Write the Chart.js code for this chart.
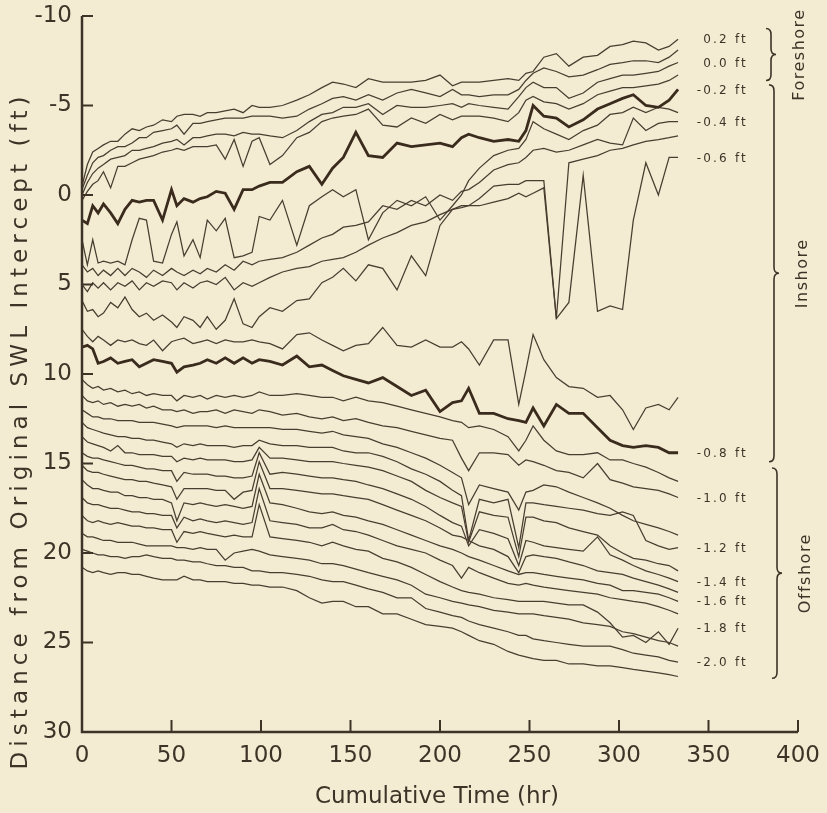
<!DOCTYPE html>
<html>
<head>
<meta charset="utf-8">
<script src="https://cdn.jsdelivr.net/npm/chart.js@4.4.1/dist/chart.umd.min.js"></script>
<style>
  html, body { margin: 0; padding: 0; background: #f3ecd3; }
  #wrap { width: 827px; height: 813px; }
</style>
</head>
<body>
<div id="wrap"><canvas id="profile-chart" width="827" height="813"></canvas></div>
<script>
// survey times (hr) shared by every contour line
var hours = [0, 3, 6, 9, 12, 16, 20, 24, 28, 32, 36, 40, 45, 50, 53, 57, 62, 66, 70, 75,
    80, 85, 90, 95, 99, 105, 112, 120, 127, 134, 140, 146, 153, 160, 168, 176, 184, 192, 200, 207,
    212, 216, 222, 230, 238, 244, 248, 252, 258, 265, 272, 280, 288, 295, 302, 308, 315, 322, 328, 333];

var timeTicks = [0, 50, 100, 150, 200, 250, 300, 350, 400];
var distanceTicks = [-10, -5, 0, 5, 10, 15, 20, 25, 30];

// contour elevations (ft), one line each
var elevations = [0.2, 0.1, 0.0, -0.1, -0.2, -0.3, -0.4, -0.5, -0.6, -0.7, -0.8, -0.9,
    -1.0, -1.1, -1.2, -1.3, -1.4, -1.5, -1.6, -1.7, -1.8, -1.9, -2.0, -2.1];
var heavyContours = [-0.2, -0.8];

// distance from original SWL intercept (ft) for each contour
var ft_p02 = [-0.5, -1.7, -2.4, -2.6, -2.8, -3.0, -3.0, -3.4, -3.7, -3.6, -3.8, -3.9, -4.2, -4.1, -4.4, -4.5, -4.5, -4.4, -4.6, -4.6,
    -4.7, -4.8, -4.6, -5.0, -4.9, -4.9, -5.0, -5.3, -5.6, -6.0, -6.3, -6.2, -6.0, -6.5, -6.3, -6.3, -6.3, -6.4, -6.7, -6.1,
    -6.3, -6.3, -6.3, -6.4, -6.5, -6.4, -6.8, -6.9, -7.7, -7.9, -7.2, -7.7, -7.8, -8.3, -8.4, -8.6, -8.5, -8.1, -8.3, -8.7];
var ft_p01 = [-0.3, -1.1, -1.8, -2.1, -2.2, -2.5, -2.7, -2.7, -2.9, -3.2, -3.2, -3.5, -3.6, -3.7, -3.9, -3.4, -4.0, -4.0, -4.1, -4.2,
    -4.3, -4.3, -4.3, -4.4, -4.4, -4.4, -4.3, -4.4, -4.8, -5.1, -5.4, -5.5, -5.3, -5.6, -5.3, -5.7, -5.9, -5.7, -5.5, -5.9,
    -5.6, -5.6, -5.5, -5.6, -5.6, -5.9, -6.4, -6.8, -7.1, -6.9, -6.6, -6.7, -7.0, -7.3, -7.4, -7.5, -7.5, -7.4, -7.7, -8.1];
var ft_000 = [0.0, -0.7, -1.2, -1.5, -1.7, -2.0, -2.1, -2.2, -2.5, -2.5, -2.6, -2.7, -2.9, -3.0, -3.1, -2.8, -3.2, -3.2, -3.3, -3.4,
    -3.4, -3.3, -3.5, -3.4, -3.4, -3.3, -3.2, -3.6, -4.1, -4.5, -4.6, -4.9, -4.9, -5.1, -4.5, -5.0, -4.9, -4.9, -5.0, -5.1,
    -4.9, -5.1, -5.0, -4.9, -4.8, -5.5, -6.0, -6.3, -6.0, -6.0, -5.4, -5.7, -6.3, -6.5, -6.7, -6.7, -6.8, -6.9, -7.2, -7.4];
var ft_m01 = [0.3, -0.2, -0.6, -0.8, -1.3, -0.4, -1.6, -1.6, -1.8, -2.0, -2.1, -2.2, -2.4, -2.5, -2.6, -2.5, -2.7, -2.7, -2.7, -2.8,
    -2.0, -3.1, -1.6, -3.0, -3.2, -1.7, -2.2, -3.2, -3.5, -4.1, -4.3, -4.4, -4.5, -4.8, -3.9, -3.8, -4.3, -4.0, -4.5, -4.2,
    -4.4, -4.4, -4.4, -4.3, -4.1, -4.6, -5.3, -5.5, -5.2, -5.1, -4.8, -5.1, -5.6, -5.8, -6.0, -6.0, -6.1, -6.2, -6.4, -6.7];
var ft_m02 = [1.4, 1.6, 0.6, 1.0, 0.5, 1.0, 1.6, 0.8, 0.3, 0.4, 0.3, 0.3, 1.4, -0.3, 0.6, 0.2, 0.4, 0.2, 0.1, -0.2,
    -0.1, 0.8, -0.3, -0.3, -0.5, -0.7, -0.7, -1.3, -1.6, -0.6, -1.5, -2.1, -3.5, -2.2, -2.1, -2.9, -2.7, -2.8, -2.9, -2.7,
    -3.2, -3.4, -3.2, -3.0, -3.1, -3.0, -3.6, -5.0, -4.4, -4.3, -3.8, -4.2, -4.8, -5.1, -5.4, -5.6, -5.0, -4.9, -5.3, -5.9];
var ft_m03 = [2.5, 3.9, 2.5, 3.8, 3.7, 3.8, 3.7, 3.9, 2.5, 1.3, 1.4, 3.7, 3.8, 2.2, 1.5, 3.4, 2.5, 3.5, 1.4, 2.0,
    1.3, 3.5, 3.4, 3.2, 1.2, 1.4, 0.3, 2.8, 0.6, 0.1, -0.3, 0.1, -0.3, 2.5, 1.0, 0.3, 0.6, 0.1, 1.4, 0.6,
    0.0, -0.8, -1.5, -2.2, -2.5, -2.6, -3.1, -4.1, -3.7, -3.4, -3.1, -3.6, -3.9, -4.5, -4.6, -4.9, -4.6, -4.9, -4.8, -4.6];
var ft_m04 = [3.9, 4.3, 4.1, 4.5, 4.2, 4.5, 4.1, 4.5, 4.1, 4.3, 4.6, 4.2, 4.5, 4.1, 4.3, 4.5, 4.2, 4.4, 4.1, 4.3,
    3.9, 4.2, 3.7, 3.9, 3.7, 3.6, 3.5, 3.2, 2.8, 2.4, 2.2, 1.8, 1.7, 1.5, 0.6, 0.8, 0.3, 0.6, 0.0, 0.3,
    -0.2, -0.3, -0.7, -1.4, -1.7, -1.8, -2.1, -2.5, -2.6, -2.4, -2.5, -2.8, -3.1, -2.9, -2.8, -4.3, -3.6, -4.0, -4.1, -4.1];
var ft_m05 = [5.0, 5.4, 4.9, 5.2, 4.9, 5.3, 4.9, 5.1, 4.8, 5.3, 4.9, 5.1, 4.8, 4.9, 5.3, 4.9, 5.2, 4.9, 4.8, 5.0,
    4.6, 5.3, 4.9, 5.1, 4.9, 4.6, 4.3, 4.1, 4.0, 3.7, 3.6, 3.5, 3.2, 2.8, 2.4, 2.1, 1.7, 1.5, 1.1, 0.8,
    0.6, 0.6, 0.2, -0.5, -0.6, -0.6, -0.8, -0.8, -0.8, 6.9, -1.8, -2.0, -2.2, -2.5, -2.6, -2.8, -3.0, -3.1, -3.2, -3.3];
var ft_m06 = [5.9, 6.5, 6.4, 6.8, 6.6, 6.0, 6.3, 5.7, 6.4, 6.8, 6.6, 7.0, 6.7, 7.1, 7.4, 6.8, 7.0, 7.4, 6.8, 7.5,
    7.0, 5.8, 7.2, 7.4, 6.8, 6.3, 6.5, 5.9, 5.8, 4.9, 4.6, 4.1, 4.8, 3.9, 4.1, 5.3, 3.4, 4.5, 1.7, 0.8,
    0.7, 0.6, 0.6, 0.4, 0.2, -0.1, 0.1, -0.1, -0.4, 6.9, 6.0, -1.1, 6.5, 6.2, 6.4, 1.4, -1.8, 0.0, -2.1, -2.1];
var ft_m07 = [7.5, 7.9, 8.2, 7.9, 8.1, 8.4, 8.1, 8.2, 8.1, 8.3, 8.4, 8.1, 8.7, 8.2, 8.1, 8.0, 8.3, 8.2, 8.1, 8.3,
    8.1, 8.2, 8.2, 8.1, 8.2, 8.3, 8.6, 7.8, 7.7, 8.1, 8.4, 8.7, 8.4, 8.3, 7.4, 8.4, 8.5, 8.1, 8.5, 8.5,
    8.2, 8.6, 9.5, 8.1, 8.1, 11.7, 9.8, 7.8, 9.2, 10.2, 10.7, 10.8, 11.3, 11.2, 12.0, 13.1, 11.9, 11.7, 12.0, 11.3];
var ft_m08 = [8.5, 8.4, 8.6, 9.4, 9.3, 9.1, 9.4, 9.3, 9.2, 9.6, 9.4, 9.2, 9.3, 9.4, 9.9, 9.6, 9.5, 9.4, 9.2, 9.4,
    9.1, 9.4, 9.1, 9.4, 9.2, 9.3, 9.5, 9.0, 9.6, 9.5, 9.8, 10.1, 10.3, 10.5, 10.2, 10.7, 11.2, 10.9, 12.1, 11.6,
    11.5, 10.8, 12.2, 12.2, 12.5, 12.6, 12.7, 11.9, 12.9, 11.7, 12.2, 12.2, 13.0, 13.7, 14.0, 14.1, 14.0, 14.1, 14.4, 14.4];
var ft_m09 = [10.3, 10.6, 10.8, 10.7, 10.9, 10.8, 11.0, 10.9, 11.1, 11.0, 11.2, 11.1, 11.2, 11.2, 11.5, 11.2, 11.3, 11.2, 11.4, 11.2,
    11.3, 11.2, 11.3, 11.2, 11.0, 11.2, 11.2, 11.1, 11.2, 11.3, 11.3, 11.5, 11.3, 11.5, 11.6, 11.8, 12.0, 12.2, 12.4, 12.6,
    12.7, 13.0, 12.9, 13.1, 13.5, 14.3, 13.7, 12.9, 13.7, 14.3, 14.5, 14.5, 14.4, 14.8, 14.8, 15.0, 15.2, 15.5, 15.8, 16.0];
var ft_m10 = [11.2, 11.5, 11.6, 11.5, 11.7, 11.6, 11.8, 11.7, 11.8, 11.7, 11.9, 11.8, 12.0, 12.0, 12.1, 12.0, 12.2, 12.1, 12.1, 12.0,
    12.2, 12.0, 12.1, 12.2, 12.0, 12.1, 12.3, 12.2, 12.4, 12.5, 12.4, 12.6, 12.5, 12.7, 12.9, 13.0, 13.2, 13.4, 13.6, 13.7,
    14.7, 15.4, 14.4, 14.4, 14.5, 15.1, 14.8, 14.9, 15.1, 15.4, 15.5, 15.8, 15.0, 15.9, 16.1, 16.3, 16.4, 16.5, 16.7, 16.9];
var ft_m11 = [12.0, 12.2, 12.4, 12.4, 12.5, 12.5, 12.6, 12.6, 12.6, 12.7, 12.7, 12.7, 12.8, 12.9, 13.0, 12.9, 12.9, 12.9, 12.9, 13.0,
    12.9, 13.0, 13.0, 13.0, 13.0, 13.0, 13.1, 13.1, 13.2, 13.3, 13.2, 13.4, 13.5, 13.6, 13.9, 14.1, 14.4, 14.7, 15.1, 15.5,
    15.8, 17.3, 16.2, 16.4, 16.6, 17.6, 16.6, 16.5, 16.2, 16.3, 16.6, 16.9, 17.2, 17.5, 17.9, 18.2, 18.4, 18.6, 18.8, 19.0];
var ft_m12 = [12.7, 13.0, 13.1, 13.2, 13.3, 13.4, 13.5, 13.5, 13.6, 13.6, 13.7, 13.7, 13.8, 13.9, 14.1, 13.9, 14.0, 13.9, 14.0, 14.0,
    14.0, 14.1, 14.0, 14.0, 13.7, 13.9, 14.0, 14.0, 14.1, 14.1, 14.1, 14.3, 14.4, 14.4, 14.6, 14.9, 15.3, 15.6, 16.0, 16.5,
    16.8, 19.3, 17.0, 17.2, 17.0, 19.7, 17.2, 17.2, 17.3, 17.4, 17.5, 17.6, 17.8, 17.9, 17.7, 17.9, 19.3, 19.6, 19.8, 19.7];
var ft_m13 = [13.5, 13.8, 13.9, 14.0, 14.1, 14.3, 14.0, 14.4, 14.4, 14.5, 14.5, 14.5, 14.6, 14.6, 14.9, 14.7, 14.8, 14.7, 14.8, 14.8,
    14.8, 14.9, 14.9, 14.8, 14.1, 14.7, 14.7, 14.8, 14.9, 14.9, 14.9, 15.0, 15.1, 15.2, 15.4, 15.7, 16.0, 16.5, 16.9, 17.2,
    17.4, 19.4, 17.7, 17.9, 18.0, 20.2, 18.0, 18.0, 18.2, 18.3, 18.6, 18.8, 19.0, 19.6, 20.0, 20.3, 20.4, 20.6, 20.7, 21.0];
var ft_m14 = [14.4, 14.6, 14.7, 14.7, 14.8, 14.9, 15.0, 15.1, 15.1, 15.2, 15.3, 15.3, 15.4, 15.4, 16.0, 15.5, 15.6, 15.6, 15.6, 15.7,
    15.7, 15.8, 15.8, 15.7, 14.4, 15.6, 15.5, 15.6, 15.7, 15.8, 15.8, 15.9, 16.0, 16.2, 16.4, 16.7, 17.0, 17.4, 17.9, 18.3,
    18.5, 19.6, 18.7, 18.9, 19.2, 20.7, 19.3, 19.4, 19.6, 19.7, 19.8, 19.9, 19.1, 20.1, 20.4, 20.7, 21.0, 21.2, 21.4, 21.6];
var ft_m15 = [15.1, 15.4, 15.5, 15.5, 15.6, 15.7, 15.8, 15.9, 15.9, 16.0, 16.0, 16.1, 16.2, 16.3, 17.0, 16.4, 16.4, 16.4, 16.4, 16.5,
    16.5, 17.0, 16.6, 16.5, 14.9, 16.4, 16.4, 16.5, 16.6, 16.7, 16.7, 16.8, 16.9, 17.0, 17.3, 17.6, 17.9, 18.2, 18.6, 19.0,
    19.1, 19.3, 19.6, 19.8, 20.2, 21.1, 20.2, 20.1, 20.2, 20.3, 20.5, 20.7, 21.0, 21.1, 21.2, 21.4, 21.6, 21.8, 22.0, 22.2];
var ft_m16 = [15.9, 16.2, 16.4, 16.4, 16.5, 16.6, 16.6, 16.8, 16.8, 16.9, 16.9, 17.0, 17.0, 17.2, 18.2, 17.2, 17.3, 17.2, 17.3, 17.4,
    17.3, 17.4, 17.5, 17.4, 15.6, 17.2, 17.3, 17.5, 17.7, 17.8, 17.7, 17.9, 18.0, 18.2, 18.4, 18.7, 19.0, 19.3, 19.6, 19.8,
    20.0, 20.2, 20.4, 20.7, 21.0, 21.2, 21.1, 21.1, 21.2, 21.3, 21.4, 21.5, 21.7, 21.8, 22.1, 22.1, 22.2, 22.3, 22.5, 22.7];
var ft_m17 = [16.9, 17.2, 17.3, 17.3, 17.4, 17.5, 17.5, 17.6, 17.7, 17.7, 17.8, 17.8, 17.9, 17.9, 18.6, 18.0, 18.2, 18.1, 18.2, 18.3,
    18.2, 18.3, 18.4, 18.3, 16.4, 18.2, 18.3, 18.4, 18.6, 18.6, 18.4, 18.7, 18.8, 19.0, 19.3, 19.6, 19.8, 20.0, 20.4, 20.7,
    21.4, 20.8, 21.1, 21.4, 21.7, 21.8, 21.7, 21.8, 21.9, 22.0, 22.1, 22.2, 22.3, 22.5, 22.6, 22.7, 22.8, 23.0, 23.2, 23.4];
var ft_m18 = [17.9, 18.2, 18.3, 18.2, 18.3, 18.4, 18.3, 18.4, 18.5, 18.5, 18.6, 18.6, 18.7, 18.7, 19.4, 18.8, 18.9, 18.8, 18.9, 19.0,
    19.1, 19.0, 19.1, 19.1, 17.3, 19.1, 19.2, 19.3, 19.4, 19.6, 19.4, 19.6, 19.8, 19.9, 20.3, 20.5, 20.8, 21.2, 21.6, 21.9,
    22.1, 22.2, 22.3, 22.5, 22.6, 22.7, 22.7, 22.7, 22.7, 22.8, 22.9, 22.9, 23.3, 23.9, 24.7, 24.6, 25.0, 24.4, 25.1, 24.2];
var ft_m19 = [18.9, 19.1, 19.1, 19.2, 19.3, 19.3, 19.4, 19.4, 19.4, 19.5, 19.6, 19.6, 19.6, 19.6, 19.7, 19.7, 19.8, 19.7, 19.8, 19.8,
    20.4, 20.0, 19.9, 19.8, 19.9, 20.1, 20.2, 20.3, 20.4, 20.6, 20.6, 20.7, 20.9, 21.1, 21.3, 21.5, 21.8, 22.3, 22.5, 22.7,
    22.8, 22.9, 23.0, 23.2, 23.3, 23.4, 23.4, 23.4, 23.5, 23.6, 23.7, 23.9, 24.0, 24.1, 24.4, 24.5, 24.7, 24.9, 25.0, 25.2];
var ft_m20 = [19.8, 19.9, 20.0, 20.1, 20.1, 20.2, 20.2, 20.3, 20.2, 20.2, 20.1, 20.2, 20.3, 20.3, 20.4, 20.4, 20.5, 20.5, 20.6, 20.7,
    20.7, 20.8, 20.8, 21.0, 21.0, 21.1, 21.1, 21.2, 21.3, 21.5, 21.6, 21.6, 21.8, 22.0, 22.2, 22.5, 22.5, 23.1, 23.3, 23.5,
    23.6, 23.8, 24.0, 24.2, 24.4, 24.6, 24.6, 24.8, 24.9, 25.0, 25.1, 25.2, 25.2, 25.2, 25.4, 25.6, 25.7, 25.8, 26.0, 26.1];
var ft_m21 = [20.8, 21.0, 21.1, 21.0, 21.1, 21.2, 21.1, 21.1, 21.2, 21.2, 21.3, 21.4, 21.5, 21.5, 21.5, 21.3, 21.5, 21.5, 21.6, 21.6,
    21.6, 21.7, 21.7, 21.8, 21.8, 21.9, 21.9, 22.1, 22.5, 22.8, 22.7, 22.7, 23.0, 23.0, 23.4, 23.4, 23.7, 24.0, 24.1, 24.2,
    24.4, 24.6, 24.9, 25.1, 25.5, 25.7, 25.8, 25.9, 26.0, 26.0, 26.2, 26.2, 26.3, 26.3, 26.4, 26.5, 26.6, 26.7, 26.8, 26.9];

var series = [ft_p02, ft_p01, ft_000, ft_m01, ft_m02, ft_m03, ft_m04, ft_m05, ft_m06, ft_m07, ft_m08, ft_m09,
    ft_m10, ft_m11, ft_m12, ft_m13, ft_m14, ft_m15, ft_m16, ft_m17, ft_m18, ft_m19, ft_m20, ft_m21];

// beach zones, as distance ranges (ft)
var zoneNames = ['Foreshore', 'Inshore', 'Offshore'];
var zoneTop = [-9.3, -6.15, 15.25];
var zoneBottom = [-6.4, 14.9, 27.0];

var ink = '#3f3327';
var paper = '#f3ecd3';
var thinFace = '"DejaVu Sans ExtraLight", "DejaVu Sans", sans-serif';

function ftLabel(e) {
    return e.toFixed(1) + ' ft';
}

var paperPlugin = {
    id: 'paper',
    beforeDraw: function (chart) {
        var ctx = chart.ctx;
        ctx.save();
        ctx.fillStyle = paper;
        ctx.fillRect(0, 0, chart.width, chart.height);
        ctx.restore();
    }
};

function drawBrace(ctx, x, top, bottom) {
    var mid = (top + bottom) / 2;
    ctx.beginPath();
    ctx.moveTo(x - 5, top);
    ctx.quadraticCurveTo(x, top, x, top + 6);
    ctx.lineTo(x, mid - 6);
    ctx.quadraticCurveTo(x, mid, x + 5, mid);
    ctx.quadraticCurveTo(x, mid, x, mid + 6);
    ctx.lineTo(x, bottom - 6);
    ctx.quadraticCurveTo(x, bottom, x - 5, bottom);
    ctx.stroke();
}

function spacedText(ctx, text, x, y, width) {
    ctx.letterSpacing = '0px';
    var w0 = ctx.measureText(text).width;
    var sp = Math.max(0, (width - w0) / (text.length - 1));
    ctx.letterSpacing = sp + 'px';
    ctx.fillText(text, x + sp / 2, y);
    ctx.letterSpacing = '0px';
}

var decorPlugin = {
    id: 'decor',
    afterDraw: function (chart) {
        var ctx = chart.ctx;
        var area = chart.chartArea;
        var xs = chart.scales.x;
        var ys = chart.scales.y;
        ctx.save();

        // axes with inward ticks
        ctx.strokeStyle = ink;
        ctx.lineWidth = 2.5;
        ctx.beginPath();
        ctx.moveTo(area.left, area.top);
        ctx.lineTo(area.left, area.bottom);
        ctx.lineTo(area.right, area.bottom);
        ctx.stroke();
        ctx.lineWidth = 2;
        ctx.beginPath();
        ys.ticks.forEach(function (t) {
            var y = ys.getPixelForValue(t.value);
            ctx.moveTo(area.left, y);
            ctx.lineTo(area.left + 11, y);
        });
        xs.ticks.forEach(function (t) {
            var x = xs.getPixelForValue(t.value);
            ctx.moveTo(x, area.bottom);
            ctx.lineTo(x, area.bottom - 12);
        });
        ctx.stroke();

        // axis titles
        ctx.fillStyle = ink;
        ctx.textAlign = 'center';
        ctx.textBaseline = 'middle';
        ctx.font = '23px ' + thinFace;
        spacedText(ctx, 'Cumulative Time (hr)', 437, 797, 241);
        ctx.save();
        ctx.translate(21, 433);
        ctx.rotate(-Math.PI / 2);
        spacedText(ctx, 'Distance from Original SWL Intercept (ft)', 0, 0, 673);
        ctx.restore();

        // contour labels at the line ends
        ctx.font = '12px "DejaVu Sans", sans-serif';
        ctx.textAlign = 'right';
        ctx.letterSpacing = '2.2px';
        series.forEach(function (vals, i) {
            if (i % 2 !== 0 || i > 22) return;
            var y = ys.getPixelForValue(vals[vals.length - 1]);
            ctx.fillText(ftLabel(elevations[i]), area.right - 50, y + 1);
        });
        ctx.letterSpacing = '0px';

        // zone braces and names
        ctx.lineWidth = 1.6;
        ctx.font = '16px "DejaVu Sans", sans-serif';
        ctx.textAlign = 'center';
        zoneNames.forEach(function (name, i) {
            var top = ys.getPixelForValue(zoneTop[i]);
            var bottom = ys.getPixelForValue(zoneBottom[i]);
            var bx = area.right - 27 + i * 3;
            drawBrace(ctx, bx, top, bottom);
            ctx.save();
            ctx.translate(bx + 29, (top + bottom) / 2);
            ctx.rotate(-Math.PI / 2);
            ctx.letterSpacing = '1.5px';
            ctx.fillText(name, 0, 0);
            ctx.restore();
        });

        ctx.restore();
    }
};

var datasets = series.map(function (vals, i) {
    var heavy = heavyContours.indexOf(elevations[i]) !== -1;
    return {
        label: ftLabel(elevations[i]),
        data: hours.map(function (h, k) { return { x: h, y: vals[k] }; }),
        borderColor: heavy ? '#3a2b1d' : '#4a3d30',
        borderWidth: heavy ? 2.8 : 1.25,
        pointRadius: 0,
        tension: 0,
        fill: false
    };
});

var tickFont = { family: thinFace, size: 23 };

var ctx = document.getElementById('profile-chart').getContext('2d');
var chart = new Chart(ctx, {
    type: 'line',
    data: { datasets: datasets },
    options: {
        responsive: false,
        animation: false,
        devicePixelRatio: 1,
        layout: { padding: { top: 16, right: 29, bottom: 0, left: 0 } },
        plugins: {
            legend: { display: false },
            tooltip: { enabled: false }
        },
        scales: {
            x: {
                type: 'linear',
                min: 0,
                max: 400,
                afterBuildTicks: function (scale) {
                    scale.ticks = timeTicks.map(function (v) { return { value: v }; });
                },
                ticks: { font: tickFont, color: ink, padding: 10, maxRotation: 0 },
                grid: { display: false, drawTicks: false },
                border: { display: false },
                afterFit: function (scale) {
                    scale.height = 81;
                    scale.paddingLeft = 0;
                    scale.paddingRight = 0;
                }
            },
            y: {
                type: 'linear',
                reverse: true,
                min: -10,
                max: 30,
                afterBuildTicks: function (scale) {
                    scale.ticks = distanceTicks.map(function (v) { return { value: v }; });
                },
                ticks: { font: tickFont, color: ink, padding: 10 },
                grid: { display: false, drawTicks: false },
                border: { display: false },
                afterFit: function (scale) {
                    scale.width = 82;
                    scale.paddingTop = 0;
                    scale.paddingBottom = 0;
                }
            }
        }
    },
    plugins: [paperPlugin, decorPlugin]
});
</script>
</body>
</html>
